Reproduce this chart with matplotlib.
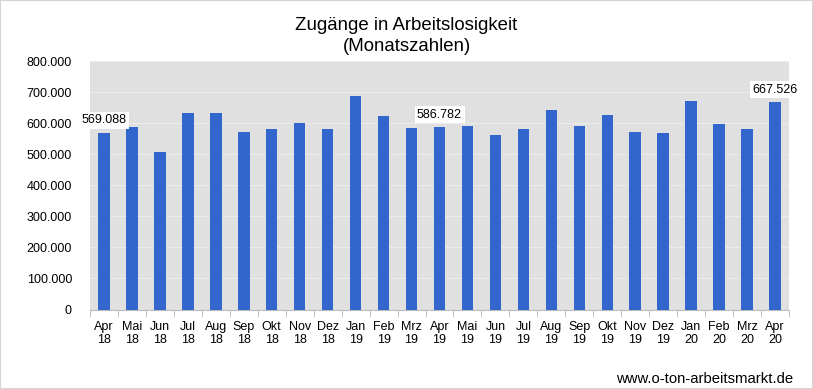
import matplotlib
matplotlib.use("Agg")
import matplotlib.pyplot as plt
from matplotlib.patches import Rectangle

plt.rcParams['font.family'] = ['Liberation Sans', 'DejaVu Sans']

months = ["Apr", "Mai", "Jun", "Jul", "Aug", "Sep", "Okt", "Nov", "Dez", "Jan", "Feb", "Mrz",
          "Apr", "Mai", "Jun", "Jul", "Aug", "Sep", "Okt", "Nov", "Dez", "Jan", "Feb", "Mrz", "Apr"]
years = ["18"] * 9 + ["19"] * 12 + ["20"] * 4
values = [569088, 588000, 507000, 633000, 633000, 572000, 581500, 601000, 582000, 688000,
          623500, 585000, 586782, 591000, 562000, 582000, 643000, 591000, 627000, 572000,
          568000, 672000, 598000, 582000, 667526]
labelled = {0: "569.088", 12: "586.782", 24: "667.526"}
yticks = [0, 100000, 200000, 300000, 400000, 500000, 600000, 700000, 800000]

W, H = 813, 389
fs = 9
fig = plt.figure(figsize=(W / 100, H / 100), dpi=100)
ax = fig.add_axes([90 / W, 1 - 309.5 / H, (789 - 90) / W, (309.5 - 61) / H])

x = list(range(len(values)))
ax.bar(x, values, width=0.41, color="#3366CC", zorder=3)
ax.set_facecolor("#E0E0E0")
ax.set_xlim(-0.5, len(values) - 0.5)
ax.set_ylim(0, 800000)
ax.set_yticks(yticks)
ax.set_yticklabels([f"{v:,}".replace(",", ".") for v in yticks], fontsize=fs)
ax.yaxis.grid(True, color="#EBEBEB", linewidth=0.8, zorder=0)
ax.tick_params(axis="y", length=0, pad=13)

ax.set_xticks(x)
ax.set_xticklabels([f"{m}\n{y}" for m, y in zip(months, years)], fontsize=fs, linespacing=1.15)
ax.tick_params(axis="x", length=0, pad=8)
ax.set_xticks([i - 0.5 for i in range(len(values) + 1)], minor=True)
ax.tick_params(axis="x", which="minor", length=5, color="#BBBBBB")

for s in ["top", "right", "left"]:
    ax.spines[s].set_visible(False)
ax.spines["bottom"].set_color("#BBBBBB")

for i, t in labelled.items():
    ax.annotate(t, (i, values[i]), xytext=(0, 9), textcoords="offset points",
                ha="center", va="center", fontsize=fs, zorder=5,
                bbox=dict(boxstyle="square,pad=0.2", fc="white", ec="none"))

fig.text(0.5, 1 - 30 / H, "Zugänge in Arbeitslosigkeit", ha="center", va="baseline", fontsize=13.4)
fig.text(0.5, 1 - 51 / H, "(Monatszahlen)", ha="center", va="baseline", fontsize=13.4)
fig.text(793 / W, 1 - 379 / H, "www.o-ton-arbeitsmarkt.de", ha="right", va="center", fontsize=10.7)

fig.patches.append(Rectangle((0, 0), 1, 1, transform=fig.transFigure, fill=False,
                             ec="#D4D4D4", lw=1.5))

fig.savefig("out.png", dpi=100)
